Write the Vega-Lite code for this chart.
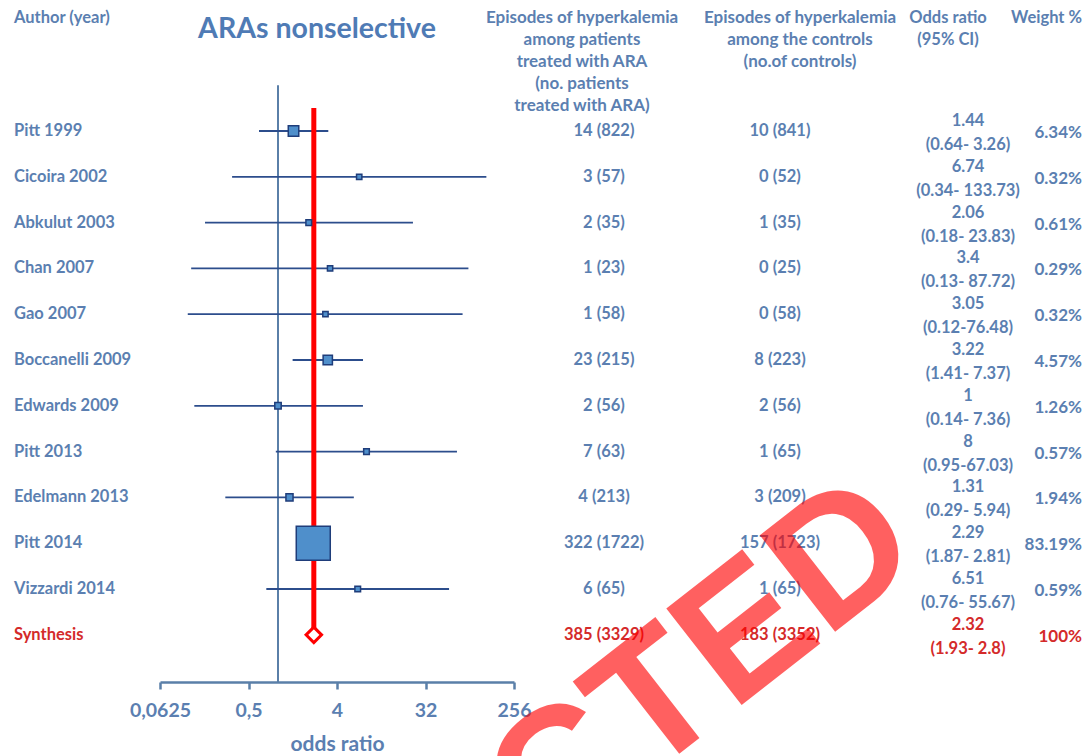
{
  "$schema": "https://vega.github.io/schema/vega-lite/v6.json",
  "background": "white",
  "padding": {"left": 14, "top": 0, "right": 4, "bottom": 0},
  "spacing": 0,
  "bounds": "flush",
  "config": {"view": {"stroke": null}, "text": {"font": "Lato", "fontWeight": "bold"}},
  "datasets": {
    "studies": [
      {"row": 1, "author": "Pitt 1999", "ara": "14 (822)", "ctrl": "10 (841)", "or": 1.44, "lo": 0.64, "hi": 3.26, "orText": "1.44", "ciText": "(0.64- 3.26)", "weight": 6.34, "weightText": "6.34%", "kind": "study"},
      {"row": 2, "author": "Cicoira 2002", "ara": "3 (57)", "ctrl": "0 (52)", "or": 6.74, "lo": 0.34, "hi": 133.73, "orText": "6.74", "ciText": "(0.34- 133.73)", "weight": 0.32, "weightText": "0.32%", "kind": "study"},
      {"row": 3, "author": "Abkulut 2003", "ara": "2 (35)", "ctrl": "1 (35)", "or": 2.06, "lo": 0.18, "hi": 23.83, "orText": "2.06", "ciText": "(0.18- 23.83)", "weight": 0.61, "weightText": "0.61%", "kind": "study"},
      {"row": 4, "author": "Chan 2007", "ara": "1 (23)", "ctrl": "0 (25)", "or": 3.4, "lo": 0.13, "hi": 87.72, "orText": "3.4", "ciText": "(0.13- 87.72)", "weight": 0.29, "weightText": "0.29%", "kind": "study"},
      {"row": 5, "author": "Gao 2007", "ara": "1 (58)", "ctrl": "0 (58)", "or": 3.05, "lo": 0.12, "hi": 76.48, "orText": "3.05", "ciText": "(0.12-76.48)", "weight": 0.32, "weightText": "0.32%", "kind": "study"},
      {"row": 6, "author": "Boccanelli 2009", "ara": "23 (215)", "ctrl": "8 (223)", "or": 3.22, "lo": 1.41, "hi": 7.37, "orText": "3.22", "ciText": "(1.41- 7.37)", "weight": 4.57, "weightText": "4.57%", "kind": "study"},
      {"row": 7, "author": "Edwards 2009", "ara": "2 (56)", "ctrl": "2 (56)", "or": 1, "lo": 0.14, "hi": 7.36, "orText": "1", "ciText": "(0.14- 7.36)", "weight": 1.26, "weightText": "1.26%", "kind": "study"},
      {"row": 8, "author": "Pitt 2013", "ara": "7 (63)", "ctrl": "1 (65)", "or": 8, "lo": 0.95, "hi": 67.03, "orText": "8", "ciText": "(0.95-67.03)", "weight": 0.57, "weightText": "0.57%", "kind": "study"},
      {"row": 9, "author": "Edelmann 2013", "ara": "4 (213)", "ctrl": "3 (209)", "or": 1.31, "lo": 0.29, "hi": 5.94, "orText": "1.31", "ciText": "(0.29- 5.94)", "weight": 1.94, "weightText": "1.94%", "kind": "study"},
      {"row": 10, "author": "Pitt 2014", "ara": "322 (1722)", "ctrl": "157 (1723)", "or": 2.29, "lo": 1.87, "hi": 2.81, "orText": "2.29", "ciText": "(1.87- 2.81)", "weight": 83.19, "weightText": "83.19%", "kind": "study"},
      {"row": 11, "author": "Vizzardi 2014", "ara": "6 (65)", "ctrl": "1 (65)", "or": 6.51, "lo": 0.76, "hi": 55.67, "orText": "6.51", "ciText": "(0.76- 55.67)", "weight": 0.59, "weightText": "0.59%", "kind": "study"},
      {"row": 12, "author": "Synthesis", "ara": "385 (3329)", "ctrl": "183 (3352)", "or": 2.32, "lo": 1.93, "hi": 2.8, "orText": "2.32", "ciText": "(1.93- 2.8)", "weight": 100, "weightText": "100%", "kind": "synthesis"}
    ]
  },
  "hconcat": [
    {
      "width": 146, "height": 682,
      "data": {"name": "studies"},
      "layer": [
        {
          "mark": {"type": "text", "align": "left", "baseline": "middle", "fontSize": 16.5},
          "encoding": {
            "x": {"datum": 0, "type": "quantitative", "scale": {"domain": [0, 1]}, "axis": null},
            "y": {"field": "row", "type": "quantitative", "scale": {"domain": [-1.86, 13.03], "reverse": true, "nice": false, "zero": false}, "axis": null},
            "text": {"field": "author", "type": "nominal"},
            "color": {"field": "kind", "type": "nominal", "scale": {"domain": ["study", "synthesis"], "range": ["#5b7fb1", "#d42a2a"]}, "legend": null}
          }
        },
        {
          "data": {"values": [{}]},
          "mark": {"type": "text", "align": "left", "baseline": "middle", "fontSize": 16.5, "color": "#5b7fb1", "text": "Author (year)"},
          "encoding": {
            "x": {"datum": 0, "type": "quantitative"},
            "y": {"datum": -1.467, "type": "quantitative"}
          }
        }
      ]
    },
    {
      "width": 354, "height": 682,
      "layer": [
        {
          "data": {"values": [{}]},
          "mark": {"type": "rule", "color": "#5a7fa8", "strokeWidth": 2},
          "encoding": {
            "x": {"datum": 1, "type": "quantitative",
              "scale": {"type": "log", "base": 2, "domain": [0.0625, 256], "nice": false},
              "axis": {"values": [0.0625, 0.5, 4, 32, 256], "labelExpr": "replace(format(datum.value, ''), '.', ',')",
                "title": "odds ratio", "grid": false, "domainColor": "#5a7fa8", "domainWidth": 2.5, "tickColor": "#5a7fa8", "tickWidth": 2.5, "tickSize": 7,
                "labelFont": "Lato", "labelFontWeight": "bold", "labelFontSize": 19.5, "labelColor": "#5b7fb1", "labelPadding": 12, "labelFlush": false, "labelOverlap": false,
                "titleFont": "Lato", "titleFontWeight": "bold", "titleFontSize": 21, "titleColor": "#5b7fb1", "titlePadding": 14}},
            "y": {"datum": 0, "type": "quantitative", "scale": {"domain": [-1.86, 13.03], "reverse": true, "nice": false, "zero": false}, "axis": null},
            "y2": {"datum": 13.03}
          }
        },
        {
          "data": {"name": "studies"},
          "transform": [{"filter": "datum.kind == 'study'"}],
          "mark": {"type": "rule", "color": "#2c4d8c", "strokeWidth": 1.8},
          "encoding": {
            "x": {"field": "lo", "type": "quantitative"},
            "x2": {"field": "hi"},
            "y": {"field": "row", "type": "quantitative", "axis": null}
          }
        },
        {
          "data": {"name": "studies"},
          "transform": [{"filter": "datum.kind == 'synthesis'"}],
          "mark": {"type": "rule", "color": "#ff0000", "strokeWidth": 5},
          "encoding": {
            "x": {"field": "or", "type": "quantitative"},
            "y": {"field": "row", "type": "quantitative", "axis": null},
            "y2": {"datum": 0.5}
          }
        },
        {
          "data": {"name": "studies"},
          "transform": [{"filter": "datum.kind == 'study'"}],
          "mark": {"type": "point", "shape": "square", "filled": true, "fill": "#4f8fcb", "stroke": "#1f3d7a", "strokeWidth": 1.5, "opacity": 1},
          "encoding": {
            "x": {"field": "or", "type": "quantitative"},
            "y": {"field": "row", "type": "quantitative", "axis": null},
            "size": {"field": "weight", "type": "quantitative", "scale": {"type": "linear", "domain": [0, 100], "range": [24, 1384], "zero": false}, "legend": null}
          }
        },
        {
          "data": {"name": "studies"},
          "transform": [{"filter": "datum.kind == 'synthesis'"}],
          "mark": {"type": "point", "shape": "diamond", "filled": true, "fill": "white", "stroke": "#ff0000", "strokeWidth": 3, "size": 240, "opacity": 1},
          "encoding": {
            "x": {"field": "or", "type": "quantitative"},
            "y": {"field": "row", "type": "quantitative", "axis": null}
          }
        },
        {
          "data": {"values": [{}]},
          "mark": {"type": "text", "text": "ARAs nonselective", "fontSize": 28.5, "color": "#4f7bb5", "baseline": "middle", "dx": -20},
          "encoding": {
            "y": {"datum": -1.22, "type": "quantitative", "axis": null}
          }
        }
      ]
    },
    {
      "width": 180, "height": 682,
      "data": {"name": "studies"},
      "layer": [
        {
          "mark": {"type": "text", "baseline": "middle", "fontSize": 16.5},
          "encoding": {
            "y": {"field": "row", "type": "quantitative", "scale": {"domain": [-1.86, 13.03], "reverse": true, "nice": false, "zero": false}, "axis": null},
            "text": {"field": "ara", "type": "nominal"},
            "color": {"field": "kind", "type": "nominal", "legend": null}
          }
        },
        {
          "data": {"values": [{}]},
          "mark": {"type": "text", "baseline": "middle", "fontSize": 17, "lineHeight": 22, "dx": -22, "color": "#5b7fb1",
            "text": ["Episodes of hyperkalemia", "among patients", "treated with ARA", "(no. patients", "treated with ARA)"]},
          "encoding": {"y": {"datum": -1.467, "type": "quantitative"}}
        }
      ]
    },
    {
      "width": 172, "height": 682,
      "data": {"name": "studies"},
      "layer": [
        {
          "mark": {"type": "text", "baseline": "middle", "fontSize": 16.5},
          "encoding": {
            "y": {"field": "row", "type": "quantitative", "scale": {"domain": [-1.86, 13.03], "reverse": true, "nice": false, "zero": false}, "axis": null},
            "text": {"field": "ctrl", "type": "nominal"},
            "color": {"field": "kind", "type": "nominal", "legend": null}
          }
        },
        {
          "data": {"values": [{}]},
          "mark": {"type": "text", "baseline": "middle", "fontSize": 17, "lineHeight": 22, "dx": 20, "color": "#5b7fb1",
            "text": ["Episodes of hyperkalemia", "among the controls", "(no.of controls)"]},
          "encoding": {"y": {"datum": -1.467, "type": "quantitative"}}
        },
        {
          "data": {"values": [{}]},
          "mark": {"type": "text", "text": "REDACTED", "font": "Liberation Sans", "fontWeight": "bold", "fontSize": 178, "angle": -38, "align": "center", "baseline": "middle", "color": "#ff0000", "opacity": 0.62},
          "encoding": {
            "x": {"datum": -1.1, "type": "quantitative", "scale": {"domain": [0, 1]}, "axis": null},
            "y": {"datum": 16.1, "type": "quantitative"}
          }
        }
      ]
    },
    {
      "width": 190, "height": 682,
      "data": {"name": "studies"},
      "layer": [
        {
          "mark": {"type": "text", "baseline": "middle", "fontSize": 16.5, "dy": -10, "dx": 7},
          "encoding": {
            "y": {"field": "row", "type": "quantitative", "scale": {"domain": [-1.86, 13.03], "reverse": true, "nice": false, "zero": false}, "axis": null},
            "text": {"field": "orText", "type": "nominal"},
            "color": {"field": "kind", "type": "nominal", "legend": null}
          }
        },
        {
          "mark": {"type": "text", "baseline": "middle", "fontSize": 16.5, "dy": 14, "dx": 7},
          "encoding": {
            "y": {"field": "row", "type": "quantitative", "axis": null},
            "text": {"field": "ciText", "type": "nominal"},
            "color": {"field": "kind", "type": "nominal", "legend": null}
          }
        },
        {
          "data": {"values": [{}]},
          "mark": {"type": "text", "baseline": "middle", "fontSize": 16.5, "lineHeight": 22, "dx": -13, "color": "#5b7fb1",
            "text": ["Odds ratio", "(95% CI)"]},
          "encoding": {"y": {"datum": -1.467, "type": "quantitative"}}
        }
      ]
    },
    {
      "width": 26, "height": 682,
      "data": {"name": "studies"},
      "layer": [
        {
          "mark": {"type": "text", "align": "right", "baseline": "middle", "fontSize": 17, "dy": 2},
          "encoding": {
            "x": {"datum": 1, "type": "quantitative", "scale": {"domain": [0, 1]}, "axis": null},
            "y": {"field": "row", "type": "quantitative", "scale": {"domain": [-1.86, 13.03], "reverse": true, "nice": false, "zero": false}, "axis": null},
            "text": {"field": "weightText", "type": "nominal"},
            "color": {"field": "kind", "type": "nominal", "legend": null}
          }
        },
        {
          "data": {"values": [{}]},
          "mark": {"type": "text", "align": "right", "baseline": "middle", "fontSize": 16.5, "color": "#5b7fb1", "text": "Weight %"},
          "encoding": {
            "x": {"datum": 1, "type": "quantitative"},
            "y": {"datum": -1.467, "type": "quantitative"}
          }
        }
      ]
    }
  ]
}
